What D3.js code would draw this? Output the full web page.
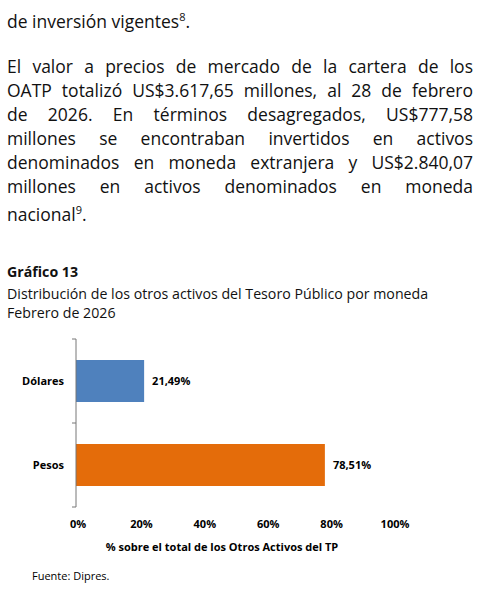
<!DOCTYPE html>
<html><head><meta charset="utf-8">
<script src="https://cdn.jsdelivr.net/npm/d3@7"></script>
<style>
body{margin:0;background:#fff;width:481px;height:615px;position:relative;overflow:hidden;font-family:"Open Sans",sans-serif;color:#111}
.l{position:absolute;left:7px;width:466px;font-size:17.5px;white-space:nowrap;text-align:justify;text-align-last:justify;line-height:24px}
.n{text-align-last:left}
.t{position:absolute;left:7px;font-size:14.2px;line-height:19px;white-space:nowrap}
svg{position:absolute;left:0;top:0}
</style></head><body>
<div class="l n" style="top:5px">de inversión vigentes<sup style="font-size:11px">8</sup>.</div>
<div class="l" style="top:54px">El valor a precios de mercado de la cartera de los</div>
<div class="l" style="top:78px">OATP totalizó US$3.617,65 millones, al 28 de febrero</div>
<div class="l" style="top:102px">de 2026. En términos desagregados, US$777,58</div>
<div class="l" style="top:126px">millones se encontraban invertidos en activos</div>
<div class="l" style="top:150px">denominados en moneda extranjera y US$2.840,07</div>
<div class="l" style="top:174px">millones en activos denominados en moneda</div>
<div class="l n" style="top:198px">nacional<sup style="font-size:11px">9</sup>.</div>
<div class="t" style="top:262px;font-weight:bold">Gráfico 13</div>
<div class="t" style="top:284px">Distribución de los otros activos del Tesoro Público por moneda</div>
<div class="t" style="top:303px">Febrero de 2026</div>
<svg id="c" width="481" height="615"></svg>
<script>
const categories=["Dólares","Pesos"];
const values=[21.49,78.51];
const colors=["#4f81bd","#e46c0a"];
const ticks=[0,20,40,60,80,100];
const svg=d3.select("#c");
const x=d3.scaleLinear().domain([0,100]).range([76,393]);
const y=d3.scaleBand().domain(categories).range([339,507]).paddingInner(0.5).paddingOuter(0.25);
const f="'Open Sans',sans-serif";
svg.selectAll("rect.b").data(values).join("rect").attr("x",x(0)).attr("y",(d,i)=>y(categories[i]))
 .attr("width",d=>x(d)-x(0)).attr("height",y.bandwidth()).attr("fill",(d,i)=>colors[i]);
svg.append("line").attr("x1",76).attr("x2",76).attr("y1",339).attr("y2",507).attr("stroke","#777");
[339,423,507].forEach(v=>svg.append("line").attr("x1",72).attr("x2",76).attr("y1",v).attr("y2",v).attr("stroke","#777"));
svg.selectAll("text.c").data(categories).join("text").attr("x",64).attr("y",d=>y(d)+y.bandwidth()/2+4)
 .attr("text-anchor","end").attr("font-weight","bold").attr("font-size",11).attr("font-family",f).text(d=>d);
svg.selectAll("text.v").data(values).join("text").attr("x",d=>x(d)+8).attr("y",(d,i)=>y(categories[i])+y.bandwidth()/2+4)
 .attr("font-weight","bold").attr("font-size",11).attr("font-family",f).text(d=>d.toFixed(2).replace(".",",")+"%");
svg.selectAll("text.x").data(ticks).join("text").attr("x",d=>x(d)+2).attr("y",528).attr("text-anchor","middle")
 .attr("font-weight","bold").attr("font-size",11).attr("font-family",f).text(d=>d+"%");
svg.append("text").attr("x",222).attr("y",551).attr("text-anchor","middle").attr("font-weight","bold").attr("font-size",11).attr("font-family",f)
 .text("% sobre el total de los Otros Activos del TP");
svg.append("text").attr("x",32).attr("y",580).attr("font-size",11).attr("font-family",f).text("Fuente: Dipres.");
</script></body></html>
